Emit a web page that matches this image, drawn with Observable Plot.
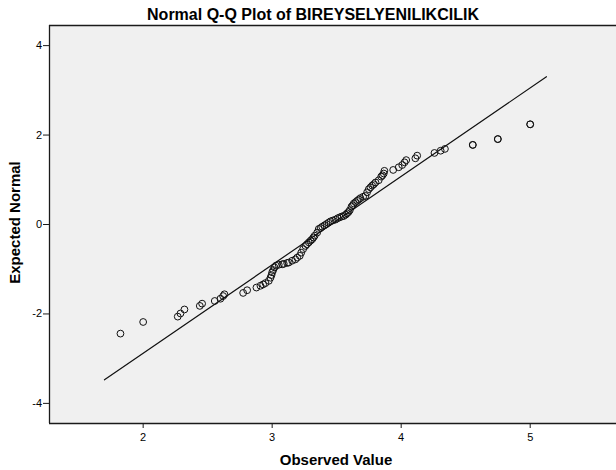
<!DOCTYPE html>
<html>
<head>
<meta charset="utf-8">
<script src="https://cdn.jsdelivr.net/npm/d3@7"></script>
<script src="https://cdn.jsdelivr.net/npm/@observablehq/plot@0.6"></script>
<style>
  html, body { margin: 0; padding: 0; background: white; }
</style>
</head>
<body>
<div id="chart"></div>
<script>
// ---- data ----
const title = "Normal Q-Q Plot of BIREYSELYENILIKCILIK";
const xLabel = "Observed Value";
const yLabel = "Expected Normal";
const xTicks = [2, 3, 4, 5];
const yTicks = [-4, -2, 0, 2, 4];

// observed values (x) and expected normal quantiles (y)
const observed = [
  1.824, 2.000, 2.268, 2.289, 2.320, 2.439, 2.457, 2.555, 2.599, 2.620,
  2.630, 2.775, 2.806, 2.878, 2.909, 2.930, 2.948, 2.974, 2.987, 2.995,
  3.000, 3.008, 3.018, 3.030, 3.051, 3.078, 3.090, 3.116, 3.129, 3.155,
  3.180, 3.194, 3.214, 3.225, 3.240, 3.258, 3.270, 3.284, 3.298, 3.310,
  3.320, 3.330, 3.349, 3.361, 3.375, 3.388, 3.405, 3.421, 3.437, 3.452,
  3.470, 3.491, 3.508, 3.524, 3.540, 3.555, 3.570, 3.581, 3.592, 3.602,
  3.615, 3.625, 3.633, 3.646, 3.659, 3.672, 3.684, 3.705, 3.723, 3.736,
  3.749, 3.762, 3.775, 3.788, 3.801, 3.826, 3.845, 3.855, 3.865, 3.870,
  3.938, 3.981, 4.008, 4.026, 4.039, 4.110, 4.124, 4.258, 4.306, 4.339,
  4.555, 4.555, 4.749, 4.749, 5.000, 5.000
];
const expected = [
  -2.44, -2.18, -2.06, -1.99, -1.90, -1.82, -1.77, -1.71, -1.66, -1.60,
  -1.56, -1.53, -1.47, -1.41, -1.37, -1.34, -1.31, -1.26, -1.19, -1.13,
  -1.07, -1.02, -0.96, -0.92, -0.90, -0.89, -0.88, -0.86, -0.85, -0.81,
  -0.78, -0.74, -0.70, -0.63, -0.55, -0.48, -0.44, -0.40, -0.36, -0.33,
  -0.29, -0.25, -0.18, -0.10, -0.08, -0.05, -0.02, 0.01, 0.04, 0.07,
  0.09, 0.11, 0.14, 0.16, 0.18, 0.19, 0.22, 0.25, 0.28, 0.32,
  0.40, 0.43, 0.47, 0.50, 0.53, 0.56, 0.59, 0.62, 0.64, 0.72,
  0.79, 0.83, 0.87, 0.90, 0.94, 0.99, 1.07, 1.10, 1.14, 1.20,
  1.22, 1.28, 1.33, 1.39, 1.44, 1.48, 1.54, 1.60, 1.65, 1.69,
  1.78, 1.78, 1.91, 1.91, 2.24, 2.24
];

// reference line end points
const lineObserved = [1.700, 5.126];
const lineExpected = [-3.474, 3.304];

// visible scale extents
const xDomain = [1.274, 5.669];
const yDomain = [-4.45, 4.45];

// ---- build ----
const points = observed.map((v, i) => ({x: v, y: expected[i]}));
const linePts = lineObserved.map((v, i) => ({x: v, y: lineExpected[i]}));
const frameColor = "#1a1a1a";

const chart = Plot.plot({
  width: 616,
  height: 470,
  marginLeft: 49,
  marginRight: 0,
  marginTop: 25,
  marginBottom: 47,
  style: {
    fontFamily: "'Liberation Sans', Arial, Helvetica, sans-serif",
    background: "white",
    color: "black",
    overflow: "visible"
  },
  x: {domain: xDomain},
  y: {domain: yDomain},
  marks: [
    Plot.frame({fill: "#f0f0f0", stroke: "none"}),
    Plot.line(linePts, {x: "x", y: "y", stroke: "#111", strokeWidth: 1.2}),
    Plot.dot(points, {x: "x", y: "y", r: 3.4, stroke: "#111", strokeWidth: 1, fill: "none"}),
    Plot.ruleY([yDomain[0], yDomain[1]], {stroke: frameColor, strokeWidth: 1.3}),
    Plot.ruleX([xDomain[0]], {stroke: frameColor, strokeWidth: 1.3}),
    Plot.axisX({ticks: xTicks, tickSize: 5, tickPadding: 5, fontSize: 11,
                tickFormat: d => String(d), label: null, stroke: frameColor}),
    Plot.axisY({ticks: yTicks, tickSize: 6, tickPadding: 1.5, fontSize: 11,
                tickFormat: d => String(d), label: null, stroke: frameColor}),
    Plot.text([title], {frameAnchor: "top", dy: -11, dx: -20, fontSize: 16,
                        fontWeight: "bold", lineAnchor: "middle", textAnchor: "middle"}),
    Plot.text([xLabel], {frameAnchor: "bottom", dy: 37, dx: 3, fontSize: 15,
                         fontWeight: "bold", lineAnchor: "middle", textAnchor: "middle"}),
    Plot.text([yLabel], {frameAnchor: "left", dx: -34, dy: -2, rotate: -90, fontSize: 15,
                         fontWeight: "bold", lineAnchor: "middle", textAnchor: "middle"})
  ]
});
document.getElementById("chart").appendChild(chart);
</script>
</body>
</html>
